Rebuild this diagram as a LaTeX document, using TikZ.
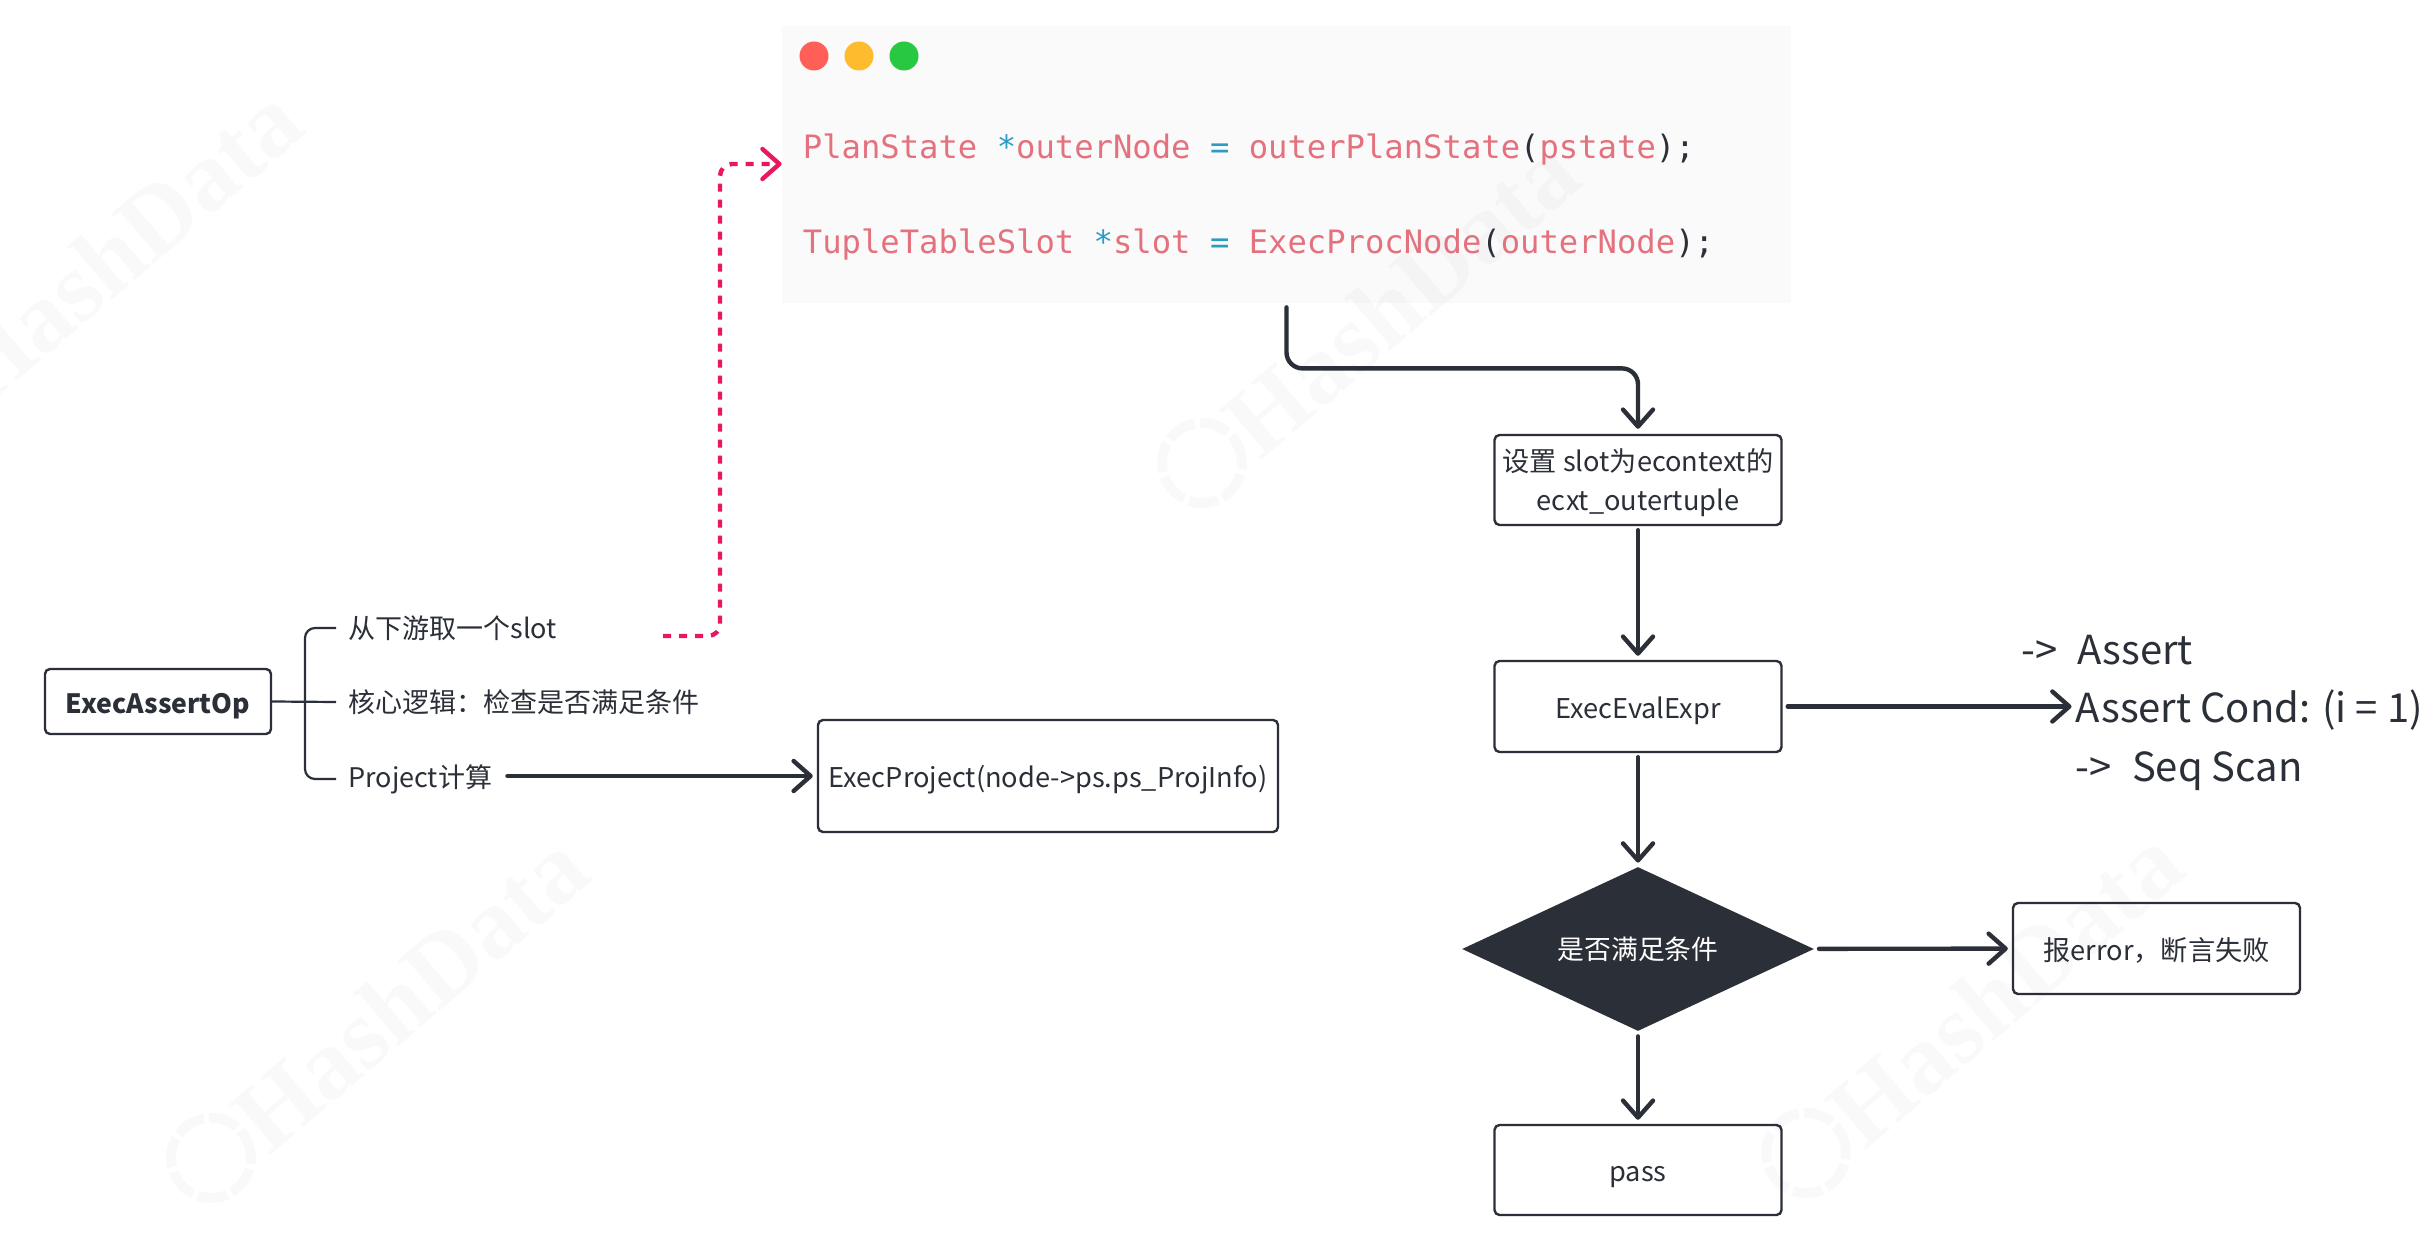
\documentclass[tikz,border=0pt]{standalone}
\usepackage{fontspec}
\setmainfont{Noto Sans CJK SC}
\newfontfamily\codefont{DejaVu Sans Mono}
\newfontfamily\wmfont{Liberation Serif}
\usetikzlibrary{arrows.meta,shapes.geometric,calc}
\definecolor{ink}{HTML}{2B2F38}
\definecolor{codepink}{HTML}{E4727E}
\definecolor{codeblue}{HTML}{2D9CC4}
\definecolor{hotpink}{HTML}{E8185F}
\definecolor{panel}{HTML}{FAFAFA}
\newcommand{\cp}[1]{\textcolor{codepink}{#1}}
\newcommand{\cb}[1]{\textcolor{codeblue}{#1}}
\newcommand{\cd}[1]{\textcolor{ink}{#1}}
\tikzset{
  x=0.5pt,y=-0.5pt,
  boxnode/.style={draw=ink,line width=1.2pt,rounded corners=2.5pt,inner sep=0pt,align=center,text height=11.8pt,text depth=0pt,font=\fontsize{13.6}{19.5}\selectfont,text=ink},
  lbl/.style={anchor=west,inner xsep=6pt,inner ysep=0pt,font=\fontsize{13.5}{16}\selectfont,text=ink},
  big/.style={anchor=west,inner sep=0pt,font=\fontsize{20}{24}\selectfont,text=ink},
  codeline/.style={anchor=west,inner sep=0pt,font=\codefont\fontsize{16.1}{20}\selectfont},
  arr/.style={draw=ink,line width=2.2pt,line cap=round,-{Straight Barb[length=8.5pt,width=15pt,line width=2.2pt,round]}},
  branch/.style={draw=ink,line width=1.1pt,rounded corners=5pt},
  dot/.style={circle,inner sep=0pt,minimum size=14.5pt},
  wmark/.style={text=black,text opacity=0.025,font=\wmfont\bfseries\fontsize{50}{50}\selectfont,rotate=40.5,inner sep=0pt,anchor=base},
  wring/.style={draw=black,draw opacity=0.025,line width=5pt,dash pattern=on 15pt off 2.5pt}
}
\begin{document}
\begin{tikzpicture}
\useasboundingbox (0,0) rectangle (2436,1234);
\fill[white] (0,0) rectangle (2436,1234);
% code panel
\node[fill=panel,minimum width=504.5pt,minimum height=138.5pt,inner sep=0pt] (panel) at (1286.5,164.5) {};
% watermarks
\node[wmark] (wa) at (146,271) {HashData};
\node[wmark] (wb) at (1423,323) {HashData};
\node[wmark] (wc) at (432,1018) {HashData};
\node[wmark] (wd) at (2027,1013) {HashData};
\draw[wring] (1202,463) circle [radius=20pt];
\draw[wring] (211,1158) circle [radius=20pt];
\draw[wring] (1806,1153) circle [radius=20pt];
% traffic lights
\node[dot,fill={rgb,255:red,255;green,95;blue,87}] (d1) at (814,56) {};
\node[dot,fill={rgb,255:red,255;green,187;blue,46}] (d2) at (859,56) {};
\node[dot,fill={rgb,255:red,40;green,200;blue,64}] (d3) at (904,56) {};
\node[codeline] (c1) at (802.5,150) {\cp{PlanState} \cb{*}\cp{outerNode} \cb{=} \cp{outerPlanState}\cd{(}\cp{pstate}\cd{);}};
\node[codeline] (c2) at (802.5,245) {\cp{TupleTableSlot} \cb{*}\cp{slot} \cb{=} \cp{ExecProcNode}\cd{(}\cp{outerNode}\cd{);}};
% flow boxes
\node[boxnode,minimum width=143.5pt,minimum height=45pt,text height=31pt] (ctx) at (1638,480) {\parbox[b]{140pt}{\centering 设置 slot为econtext的\\ecxt\_outertuple}};
\node[boxnode,minimum width=143.5pt,minimum height=45.5pt] (eval) at (1638,706.5) {ExecEvalExpr};
\node[diamond,shape aspect=2.146,fill=ink,inner sep=0pt,minimum width=176pt,minimum height=82pt,text=white,font=\fontsize{13.4}{16}\selectfont] (cond) at (1638,949) {是否满足条件};
\node[boxnode,minimum width=143.5pt,minimum height=45.5pt] (err) at (2156.5,948.5) {报error，断言失败};
\node[boxnode,minimum width=143.5pt,minimum height=45pt] (pass) at (1638,1170) {pass};
% assert text
\node[big] (a1) at (2021,650) {->\hspace{0.5em}Assert};
\node[big] (a2) at (2075.5,710) {Assert Cond: (i = 1)};
\node[big] (a3) at (2075.5,771) {->\hspace{0.5em}Seq Scan};
% left
\node[boxnode,minimum width=113pt,minimum height=32.5pt,font=\fontsize{13.3}{16}\selectfont\bfseries] (root) at (158,701.5) {ExecAssertOp};
\node[lbl] (t1) at (336,628) {从下游取一个slot};
\node[lbl] (t2) at (336,702) {核心逻辑：检查是否满足条件};
\node[lbl] (t3) at (336,779) {Project计算};
\node[boxnode,minimum width=230pt,minimum height=56pt] (proj) at (1048,776) {ExecProject(node->ps.ps\_ProjInfo)};
\coordinate (trunk) at (305,702);
\coordinate (dstart) at (663,636);
\coordinate (dcorner) at (720,164);
% connectors
\draw[branch] (t1.west) -- (t1.west -| trunk) -- (t3.west -| trunk) -- (t3.west);
\draw[branch] (root.east) -- (t2.west);
\draw[draw=hotpink,line width=2.2pt,dash pattern=on 4pt off 4pt,rounded corners=6pt,-{Straight Barb[length=8.5pt,width=15pt,line width=2.2pt,round]}]
  (dstart) -- (dstart -| dcorner) -- (dcorner) -- (panel.west |- dcorner);
\draw[arr,rounded corners=8pt,shorten <=2pt,shorten >=2.5pt] (panel.south) -- ++(0,65) -| (ctx.north);
\draw[arr,shorten <=2pt,shorten >=2pt] (ctx) -- (eval);
\draw[arr,shorten <=2pt,shorten >=2pt] (eval) -- (cond);
\draw[arr,shorten <=2.5pt,shorten >=2pt] (cond) -- (pass);
\draw[arr,shorten <=2.5pt,shorten >=2pt] (cond) -- (err);
\draw[arr,shorten <=2.5pt,shorten >=2pt] (eval.east) -- (a2.west |- eval.east);
\draw[arr,shorten <=1.5pt,shorten >=2pt] (proj.west -| t3.east) -- (proj.west);
\end{tikzpicture}
\end{document}
